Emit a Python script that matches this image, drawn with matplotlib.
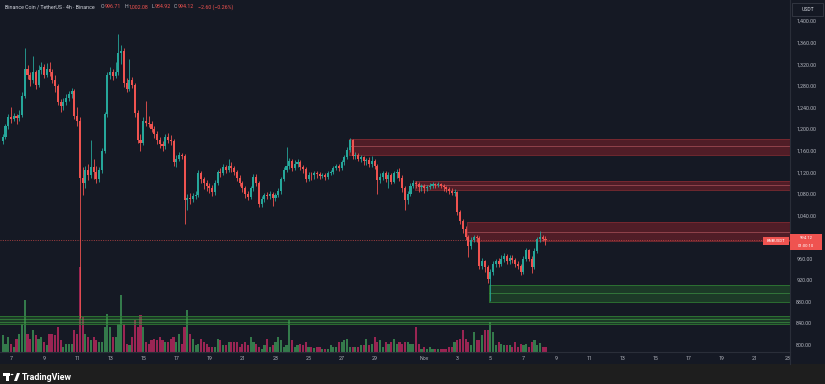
import matplotlib.pyplot as plt
from matplotlib.patches import Rectangle, Circle, Polygon
from matplotlib.lines import Line2D

plt.rcParams['font.family'] = ['Roboto', 'DejaVu Sans']

# ---- BNB/USDT 4h candles (first candle Oct 6 12:00) ----
first_open = 1178.0
closes = [
    1185, 1205, 1222, 1218, 1224, 1220, 1226, 1262, 1312, 1300,
    1290, 1305, 1282, 1310, 1315, 1300, 1312, 1305, 1290, 1280,
    1250, 1242, 1250, 1258, 1265, 1270, 1225, 1215, 1110, 1100,
    1125, 1115, 1130, 1120, 1108, 1125, 1160, 1228, 1300, 1305,
    1298, 1305, 1340, 1345, 1285, 1275, 1290, 1282, 1230, 1180,
    1175, 1215, 1212, 1210, 1200, 1190, 1180, 1172, 1168, 1185,
    1180, 1178, 1138, 1145, 1152, 1150, 1068, 1072, 1070, 1076,
    1078, 1118, 1108, 1100, 1095, 1090, 1084, 1100, 1120, 1118,
    1130, 1125, 1132, 1128, 1120, 1110, 1100, 1090, 1080, 1075,
    1090, 1112, 1100, 1062, 1070, 1078, 1076, 1080, 1072, 1078,
    1085, 1108, 1125, 1132, 1140, 1128, 1136, 1138, 1130, 1126,
    1108, 1115, 1114, 1118, 1116, 1113, 1115, 1112, 1118, 1120,
    1128, 1132, 1128, 1138, 1148, 1162, 1180, 1150, 1152, 1145,
    1148, 1140, 1142, 1136, 1140, 1132, 1105, 1112, 1118, 1108,
    1115, 1102, 1118, 1120, 1110, 1090, 1068, 1080, 1095, 1100,
    1098, 1092, 1094, 1090, 1092, 1095, 1098, 1096, 1098, 1094,
    1092, 1088, 1086, 1082, 1083, 1046, 1030, 1015, 1000, 983,
    995, 1000, 998, 946, 955, 945, 922, 936, 950, 955,
    950, 960, 965, 955, 962, 958, 950, 946, 935, 960,
    975, 960, 944, 975, 996, 1000, 996.71, 994.12,
]
highs = [
    1190, 1210, 1228, 1240, 1230, 1228, 1236, 1268, 1350, 1318,
    1306, 1335, 1310, 1318, 1325, 1320, 1322, 1325, 1312, 1300,
    1284, 1256, 1258, 1264, 1270, 1276, 1274, 1240, 1222, 1130,
    1132, 1135, 1180, 1145, 1132, 1130, 1165, 1232, 1306, 1315,
    1312, 1325, 1376, 1355, 1350, 1295, 1330, 1296, 1286, 1235,
    1190, 1222, 1252, 1225, 1215, 1206, 1196, 1186, 1178, 1190,
    1192, 1188, 1182, 1152, 1158, 1156, 1154, 1080, 1082, 1082,
    1085, 1124, 1122, 1112, 1106, 1100, 1096, 1106, 1125, 1128,
    1136, 1134, 1144, 1138, 1132, 1124, 1114, 1104, 1094, 1086,
    1095, 1116, 1116, 1104, 1076, 1082, 1084, 1086, 1084, 1082,
    1090, 1112, 1130, 1167, 1146, 1144, 1142, 1144, 1142, 1134,
    1130, 1120, 1120, 1122, 1122, 1120, 1119, 1118, 1122, 1124,
    1132, 1136, 1136, 1142, 1152, 1166, 1184, 1182, 1158, 1156,
    1152, 1150, 1146, 1148, 1150, 1144, 1136, 1118, 1122, 1122,
    1120, 1118, 1122, 1126, 1128, 1114, 1094, 1086, 1100, 1106,
    1104, 1102, 1098, 1098, 1096, 1100, 1102, 1100, 1102, 1100,
    1098, 1095, 1092, 1090, 1088, 1086, 1050, 1034, 1020, 1004,
    1000, 1004, 1004, 1002, 962, 958, 948, 940, 955, 960,
    962, 966, 970, 968, 966, 966, 962, 956, 950, 965,
    980, 978, 964, 980, 1000, 1011, 1004, 1002.08,
]
lows = [
    1172, 1182, 1200, 1212, 1214, 1210, 1215, 1222, 1258, 1292,
    1280, 1286, 1275, 1278, 1302, 1295, 1296, 1298, 1285, 1268,
    1244, 1232, 1236, 1245, 1252, 1258, 1218, 1205, 850, 1078,
    1090, 1105, 1110, 1108, 1100, 1102, 1118, 1155, 1222, 1292,
    1290, 1294, 1300, 1320, 1278, 1268, 1270, 1276, 1222, 1174,
    1160, 1170, 1206, 1204, 1194, 1184, 1172, 1165, 1160, 1163,
    1174, 1170, 1132, 1130, 1140, 1144, 1024, 1050, 1062, 1065,
    1070, 1074, 1100, 1088, 1086, 1082, 1076, 1078, 1096, 1112,
    1114, 1118, 1120, 1120, 1114, 1104, 1094, 1084, 1072, 1068,
    1070, 1086, 1094, 1055, 1056, 1064, 1070, 1070, 1058, 1066,
    1074, 1080, 1104, 1120, 1126, 1122, 1124, 1130, 1124, 1118,
    1102, 1104, 1106, 1108, 1110, 1108, 1109, 1106, 1108, 1114,
    1116, 1124, 1122, 1124, 1134, 1144, 1158, 1144, 1144, 1140,
    1138, 1134, 1134, 1130, 1130, 1126, 1080, 1100, 1106, 1102,
    1090, 1098, 1100, 1110, 1104, 1084, 1050, 1062, 1076, 1090,
    1090, 1084, 1086, 1082, 1086, 1088, 1090, 1090, 1092, 1090,
    1086, 1084, 1080, 1078, 1076, 1040, 1024, 1008, 994, 963,
    978, 990, 990, 940, 940, 936, 915, 881, 930, 944,
    944, 946, 954, 950, 950, 952, 944, 940, 930, 932,
    955, 955, 934, 940, 970, 990, 992, 984.92,
]
volumes = [  # thousand BNB, approximate
    17, 8, 15, 8, 5, 13, 18, 28, 52, 18,
    13, 22, 17, 13, 15, 10, 7, 18, 18, 17,
    25, 12, 5, 8, 8, 8, 22, 18, 85, 35,
    18, 15, 12, 15, 12, 10, 10, 25, 38, 25,
    15, 15, 28, 57, 28, 8, 7, 15, 32, 25,
    37, 25, 10, 8, 12, 13, 12, 15, 12, 10,
    10, 13, 15, 10, 18, 8, 25, 42, 18, 13,
    7, 8, 13, 10, 8, 5, 5, 5, 13, 12,
    7, 7, 10, 10, 10, 10, 5, 8, 10, 7,
    15, 10, 8, 5, 3, 7, 13, 5, 7, 10,
    15, 12, 5, 7, 32, 12, 5, 7, 8, 7,
    10, 5, 5, 4, 5, 5, 3, 3, 3, 7,
    5, 5, 10, 10, 12, 13, 5, 5, 5, 5,
    7, 7, 13, 7, 8, 15, 10, 12, 5, 10,
    8, 10, 13, 8, 10, 8, 10, 10, 8, 8,
    25, 8, 3, 5, 3, 5, 3, 3, 3, 3,
    3, 3, 5, 5, 10, 12, 13, 22, 13, 10,
    7, 20, 12, 12, 17, 22, 22, 30, 20, 7,
    10, 8, 7, 7, 7, 5, 10, 5, 8, 7,
    8, 5, 10, 12, 7, 9, 5, 5,
]

# supply (red) / demand (green) zones: start candle, low, high, inner lines
zone_start = [126, 150, 169, 177, -6]
zone_low = [1152, 1087, 993, 880, 839]
zone_high = [1182, 1104, 1027, 911, 854]
zone_lines = [[1168], [1096], [1010], [896], [848, 843]]
zone_kind = ['supply', 'supply', 'supply', 'demand', 'demand']

price_ticks = list(range(800, 1401, 40))
date_ticks = [0, 2, 4, 6, 8, 10, 12, 14, 16, 18, 20, 22, 25, 27, 29, 31,
              33, 35, 37, 39, 41, 43, 45, 47]  # days after Oct 7
date_labels = ['7', '9', '11', '13', '15', '17', '19', '21', '23', '25',
               '27', '29', 'Nov', '3', '5', '7', '9', '11', '13', '15',
               '17', '19', '21', '23']
last_price = 994.12

W, H = 825, 384
BG = '#151924'
UP, DOWN = '#26a69a', '#ef5350'
VOL_UP, VOL_DOWN = '#347a4b', '#9a2553'
TXT = '#b2b5be'
GRIDC = '#2a2e39'

t0 = -0.5          # Oct 6 12:00, in days after Oct 7
step = 4 / 24
times = [t0 + i * step for i in range(len(closes))]
opens = [first_open] + closes[:-1]
up = [c >= o for o, c in zip(opens, closes)]
ccol = [UP if u else DOWN for u in up]
vcol = [VOL_UP if u else VOL_DOWN for u in up]

fig = plt.figure(figsize=(W / 100, H / 100), dpi=100, facecolor=BG)
rect = [0, 32 / H, 790 / W, 352 / H]
ax_vol = fig.add_axes(rect)
ax = fig.add_axes(rect, sharex=ax_vol)

xmin, xmax = -11 / 16.53, 779 / 16.53
ymin, ymax = 1000 - 115 / 0.54, 1000 + 237 / 0.54

# volume pane (behind the candles)
ax_vol.set_facecolor(BG)
ax_vol.bar(times, volumes, width=0.13, color=vcol, linewidth=0)
ax_vol.set_ylim(0, 352)
ax_vol.set_yticks([])
ax_vol.tick_params(axis='x', bottom=False, labelbottom=False)
for s in ax_vol.spines.values():
    s.set_visible(False)

ax.patch.set_alpha(0)

# zones
for st, lo, hi, lines, kind in zip(zone_start, zone_low, zone_high, zone_lines, zone_kind):
    xs = t0 + st * step - 0.06
    if kind == 'supply':
        fc, ec, lc, a = '#a3232d', '#7d2a31', '#c9646b', 0.42
    else:
        fc, ec, lc, a = '#2a7a2e', '#2f7a33', '#46a84a', 0.35
    ax.add_patch(Rectangle((xs, lo), xmax + 5 - xs, hi - lo, facecolor=fc,
                           alpha=a, edgecolor='none', zorder=1))
    ax.add_patch(Rectangle((xs, lo), xmax + 5 - xs, hi - lo, facecolor='none',
                           edgecolor=ec, lw=0.6, zorder=1.1))
    ax.hlines(lines, xs, xmax + 5, colors=lc, lw=0.5, alpha=0.75, zorder=1.2)

# last price dotted line
ax.axhline(last_price, color=DOWN, lw=0.6, ls=(0, (1.2, 1.6)), alpha=0.75, zorder=1.5)

# candles
bodies_lo = [min(o, c) for o, c in zip(opens, closes)]
bodies_h = [max(abs(c - o), 1.6) for o, c in zip(opens, closes)]
ax.vlines(times, lows, highs, colors=ccol, lw=0.6, zorder=3)
ax.bar(times, bodies_h, bottom=bodies_lo, width=0.125, color=ccol, linewidth=0, zorder=3.1)

ax.set_xlim(xmin, xmax)
ax.set_ylim(ymin, ymax)

ax.yaxis.tick_right()
ax.set_yticks(price_ticks, [f'{p:,.2f}' for p in price_ticks])
ax.tick_params(axis='y', length=0, pad=4.5, labelsize=3.9, labelcolor=TXT)
ax.set_xticks(date_ticks, date_labels)
ax.tick_params(axis='x', length=0, pad=3, labelsize=3.8, labelcolor=TXT)
for k in ('top', 'left'):
    ax.spines[k].set_visible(False)
ax.spines['right'].set_color(GRIDC)
ax.spines['bottom'].set_color(GRIDC)
ax.spines['right'].set_linewidth(0.8)
ax.spines['bottom'].set_linewidth(0.8)


def px(x, y):
    return x / W, 1 - y / H


# bottom band + axis separator through date row
fig.add_artist(Rectangle((0, 0), 1, 20 / H, transform=fig.transFigure,
                         facecolor='#1e1e1e', edgecolor='none', zorder=5))
fig.add_artist(Line2D([790 / W, 790 / W], [20 / H, 32 / H], color=GRIDC, lw=0.8, zorder=5))

# TradingView logo
logo_kw = dict(transform=fig.transFigure, facecolor='white', edgecolor='none', zorder=6)
fig.add_artist(Rectangle(px(3, 376), 7 / W, 3 / H, **logo_kw))
fig.add_artist(Rectangle(px(6, 381), 3 / W, 8 / H, **logo_kw))
fig.add_artist(Circle(px(12, 374.5), 1.4 / W, **logo_kw))
fig.add_artist(Polygon([px(14, 381), px(17, 373), px(20, 373), px(17, 381)], **logo_kw))
fig.text(*px(22, 377.5), 'TradingView', color='white', fontsize=6.4,
         fontweight='bold', va='center', ha='left', zorder=6)

# header line
renderer = fig.canvas.get_renderer()
header = [('Binance Coin / TetherUS · 4h · Binance', '#d1d4dc', 0),
          ('O', TXT, 6), ('996.71', DOWN, 0.3), ('H', TXT, 3.5), ('1,002.08', DOWN, 0.3),
          ('L', TXT, 3.5), ('984.92', DOWN, 0.3), ('C', TXT, 3.5), ('994.12', DOWN, 0.3),
          ('−2.60 (−0.26%)', DOWN, 3.5)]
xcur = 5
for s, col, gap in header:
    xcur += gap
    t = fig.text(*px(xcur, 7), s, color=col, fontsize=3.8, va='center', ha='left')
    xcur = t.get_window_extent(renderer).x1

# USDT box
fig.add_artist(Rectangle(px(792, 16), 31 / W, 13 / H, transform=fig.transFigure,
                         facecolor=BG, edgecolor='#363a45', lw=0.6, zorder=6))
fig.text(*px(807.5, 9.5), 'USDT', color='#d1d4dc', fontsize=3.7,
         va='center', ha='center', zorder=7)

# last price labels
fig.add_artist(Rectangle(px(790, 250), 32 / W, 16 / H, transform=fig.transFigure,
                         facecolor=DOWN, edgecolor='none', zorder=6))
fig.text(*px(806, 238.0), f'{last_price:.2f}', color='white', fontsize=3.0,
         va='center', ha='center', zorder=7)
fig.text(*px(806, 246.0), '01:00:10', color='white', fontsize=3.0,
         va='center', ha='center', zorder=7)
fig.add_artist(Rectangle(px(763, 245), 26 / W, 8 / H, transform=fig.transFigure,
                         facecolor=DOWN, edgecolor='none', zorder=6))
fig.text(*px(776, 241), 'BNBUSDT', color='white', fontsize=3.0,
         va='center', ha='center', zorder=7)

fig.savefig('out.png', dpi=100, facecolor=BG)
